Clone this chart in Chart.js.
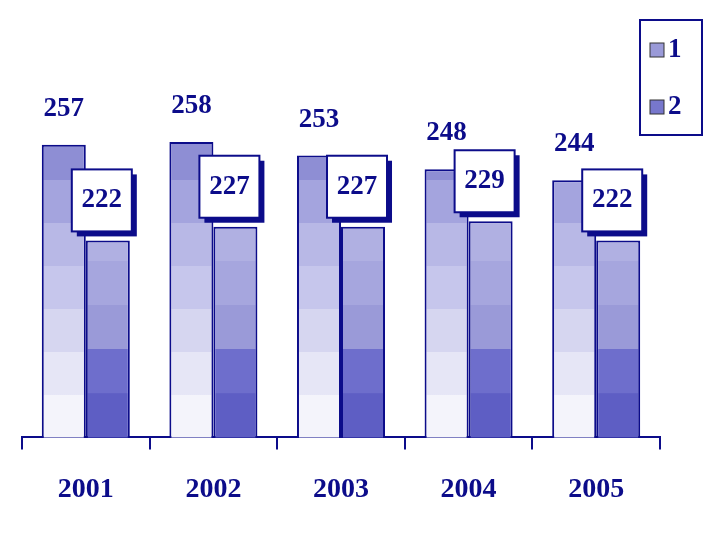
<!DOCTYPE html>
<html><head><script src="https://cdn.jsdelivr.net/npm/chart.js@4"></script>
<style>body{margin:0;background:#fff}#w{width:720px;height:540px}</style></head>
<body><div id="w"><canvas id="c"></canvas></div>
<script>
const categories=["2001","2002","2003","2004","2005"];
const series1=[257,258,253,248,244];
const series2=[222,227,227,229,222];
const seriesNames=["1","2"];
const navy="#0c0c8a";
function grad1(ctx){const a=ctx.chart.chartArea;if(!a)return"#aaf";const g=ctx.chart.ctx.createLinearGradient(0,a.bottom,0,a.top+110);
const cs=["#f4f4fb","#e6e6f6","#d6d6f0","#c6c6ec","#b8b8e6","#a4a4de","#8e8ed4"];
cs.forEach((c,i)=>{g.addColorStop(i/cs.length,c);g.addColorStop((i+1)/cs.length-0.001,c);});return g;}
function grad2(ctx){const a=ctx.chart.chartArea;if(!a)return"#66c";const g=ctx.chart.ctx.createLinearGradient(0,a.bottom,0,a.top+190);
const cs=["#5e5ec4","#6e6ecc","#9a9ad8","#a6a6de","#b0b0e2"];
cs.forEach((c,i)=>{g.addColorStop(i/cs.length,c);g.addColorStop((i+1)/cs.length-0.001,c);});return g;}
const labelsPlugin={id:"lbl",afterDatasetsDraw(ch){const c=ch.ctx;c.save();c.font="bold 27px 'Liberation Serif'";c.textAlign="center";c.textBaseline="middle";
ch.getDatasetMeta(0).data.forEach((b,i)=>{c.fillStyle=navy;c.fillText(series1[i],b.x,b.y-36);});
ch.getDatasetMeta(1).data.forEach((b,i)=>{const x=b.x-36,y=b.y-71,w=60,h=62;c.fillStyle=navy;c.fillRect(x+5,y+5,w,h);c.fillStyle="#fff";c.fillRect(x,y,w,h);c.strokeStyle=navy;c.lineWidth=2;c.strokeRect(x,y,w,h);c.fillStyle=navy;c.fillText(series2[i],x+w/2,y+h/2);});
c.strokeStyle=navy;c.lineWidth=2;c.strokeRect(640,20,62,115);c.textAlign="left";
[["#9a9ad8",50],["#7777cc",107]].forEach(([col,yy],i)=>{c.fillStyle=col;c.fillRect(650,yy-7,14,14);c.strokeStyle="#333";c.lineWidth=1;c.strokeRect(650,yy-7,14,14);c.fillStyle=navy;c.fillText(seriesNames[i],668,yy);});
c.restore();}};
const common={borderColor:navy,borderWidth:{top:2,left:2,right:2,bottom:0},borderSkipped:"bottom",categoryPercentage:0.69,barPercentage:1};
new Chart(document.getElementById("c"),{type:"bar",data:{labels:categories,datasets:[
{data:series1,backgroundColor:grad1,...common},
{data:series2,backgroundColor:grad2,...common}]},
options:{animation:false,responsive:true,maintainAspectRatio:false,layout:{padding:{left:22,right:60,top:27,bottom:9}},
plugins:{legend:{display:false},tooltip:{enabled:false}},
scales:{x:{grid:{offset:true,drawOnChartArea:false,tickLength:12,color:navy,lineWidth:2},border:{color:navy,width:2},ticks:{color:navy,font:{family:"Liberation Serif",weight:"bold",size:28},padding:24}},
y:{display:false,min:150,max:300}}},plugins:[labelsPlugin]});
</script></body></html>
